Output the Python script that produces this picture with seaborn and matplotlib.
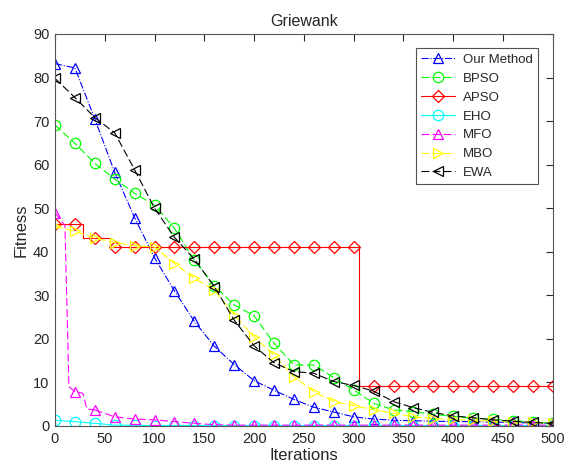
import numpy as np
import pandas as pd
import matplotlib
matplotlib.use("Agg")
import matplotlib.pyplot as plt
import seaborn as sns
from matplotlib.lines import Line2D

# ---------------- data ----------------
iters = list(range(0, 501, 20))

our_method = [83.2, 82.2, 70.5, 58.2, 47.8, 38.6, 31.0, 24.0, 18.3, 14.1, 10.4, 8.2, 6.1,
              4.3, 3.2, 2.1, 1.6, 1.3, 1.2, 1.1, 1.0, 1.0, 0.9, 0.8, 0.7, 0.6]
bpso = [69.1, 64.9, 60.3, 56.7, 53.4, 50.7, 45.4, 38.0, 32.2, 27.8, 25.3, 19.0, 14.0,
        14.0, 11.1, 8.3, 5.2, 3.7, 3.3, 2.7, 2.2, 1.8, 1.5, 1.2, 0.9, 0.6]
apso = [46.3, 46.3, 43.2] + [41.0] * 13 + [9.2] * 10
eho = [1.3, 1.0, 0.6, 0.2, 0.15, 0.1, 0.1, 0.1, 0.1, 0.1, 0.1, 0.1, 0.1,
       0.1, 0.1, 0.1, 0.1, 0.1, 0.1, 0.1, 0.1, 0.1, 0.1, 0.1, 0.1, 0.1]
mfo = [49.0, 7.9, 3.7, 2.1, 1.6, 1.4, 1.0, 0.6, 0.3, 0.2, 0.2, 0.2, 0.2,
       0.2, 0.2, 0.2, 0.2, 0.2, 0.2, 0.2, 0.2, 0.2, 0.2, 0.2, 0.2, 0.2]
mbo = [45.8, 44.7, 43.1, 42.1, 41.4, 41.1, 37.3, 33.9, 31.2, 25.5, 20.4, 16.3, 11.3,
       7.9, 5.6, 4.7, 3.7, 2.9, 2.1, 1.7, 1.5, 1.3, 1.1, 0.9, 0.8, 0.6]
ewa = [79.8, 75.4, 70.8, 67.3, 58.8, 50.0, 43.3, 38.3, 32.0, 24.3, 18.4, 14.5, 12.5,
       12.1, 10.2, 9.3, 8.0, 5.6, 4.2, 3.1, 2.3, 1.9, 1.4, 1.1, 0.8, 0.6]

# line paths where the curve has steps between markers
apso_line_x = [0, 28, 55, 305, 500]
apso_line_y = [46.3, 43.2, 41.0, 9.2, 9.2]
mfo_line_x = [0, 10, 14, 20, 28, 32, 40]
mfo_line_y = [49.0, 46.0, 9.0, 7.9, 7.5, 3.9, 3.7]

names = ["Our Method", "BPSO", "APSO", "EHO", "MFO", "MBO", "EWA"]
values = [our_method, bpso, apso, eho, mfo, mbo, ewa]
colors = ["#0000ff", "#00ff00", "#ff0000", "#00ffff", "#ff00ff", "#ffff00", "#000000"]
markers = ["^", "o", "D", "o", "^", ">", "<"]
styles = ["-.", (0, (7, 3)), "-", "-", (0, (7, 3)), (0, (7, 3)), (0, (7, 3))]
msizes = [7.5, 7.5, 6.5, 7.5, 7.5, 7.5, 7.5]

# ---------------- figure ----------------
sns.set_theme(style="white")
plt.rcParams["font.family"] = ["Liberation Sans", "DejaVu Sans"]

fig = plt.figure(figsize=(5.67, 4.72), dpi=100)
ax = fig.add_axes([0.097, 0.0975, 0.878, 0.8305])

df = pd.DataFrame({"Iterations": iters})
for n, v in zip(names, values):
    df[n] = v

LW = 0.8
handles = []
for n, c, m, ls, ms in zip(names, colors, markers, styles, msizes):
    if n == "APSO":
        sns.lineplot(x=apso_line_x, y=apso_line_y, ax=ax, color=c, lw=LW,
                     drawstyle="steps-post", linestyle=ls)
        sns.lineplot(data=df, x="Iterations", y=n, ax=ax, color=c, linestyle="",
                     marker=m, markersize=ms, markerfacecolor="none",
                     markeredgecolor=c, markeredgewidth=0.9)
    elif n == "MFO":
        sns.lineplot(x=mfo_line_x, y=mfo_line_y, ax=ax, color=c, lw=LW,
                     linestyle=ls, sort=False)
        sns.lineplot(data=df[df["Iterations"] >= 40], x="Iterations", y=n, ax=ax,
                     color=c, lw=LW, linestyle=ls)
        sns.lineplot(data=df, x="Iterations", y=n, ax=ax, color=c, linestyle="",
                     marker=m, markersize=ms, markerfacecolor="none",
                     markeredgecolor=c, markeredgewidth=0.9)
    else:
        sns.lineplot(data=df, x="Iterations", y=n, ax=ax, color=c, lw=LW,
                     linestyle=ls, marker=m, markersize=ms, markerfacecolor="none",
                     markeredgecolor=c, markeredgewidth=0.9)
    handles.append(Line2D([0], [0], color=c, lw=LW, linestyle=ls, marker=m,
                          markersize=ms, markerfacecolor="none",
                          markeredgecolor=c, markeredgewidth=0.9))

ax.set_xlim(0, 500)
ax.set_ylim(0, 90)
ax.set_xticks(range(0, 501, 50))
ax.set_yticks(range(0, 91, 10))
ax.tick_params(direction="in", length=5, width=0.8, top=True, right=True,
               labelsize=10.5, colors="#262626", pad=4)
for sp in ax.spines.values():
    sp.set_color("#555555")
    sp.set_linewidth(0.8)

ax.set_xlabel("Iterations", fontsize=12, color="#262626", labelpad=2)
ax.set_ylabel("Fitness", fontsize=12, color="#262626", labelpad=3)
ax.set_title("Griewank", fontsize=11.5, color="#262626", pad=6)

leg = ax.legend(handles, names, loc="upper right", fontsize=9.5, frameon=True,
                fancybox=False, edgecolor="#262626", handlelength=2.6,
                borderaxespad=1.1, labelspacing=0.5, borderpad=0.4,
                handletextpad=0.6)
leg.get_frame().set_linewidth(0.8)

fig.savefig("out.png", dpi=100)
